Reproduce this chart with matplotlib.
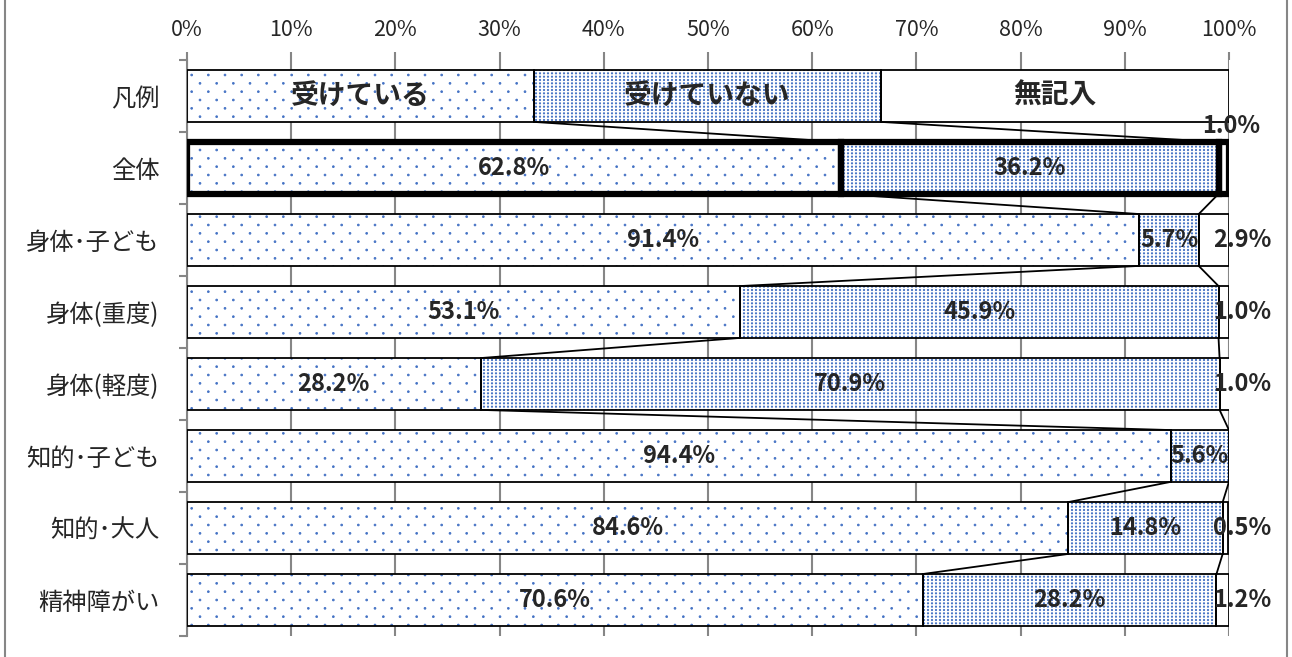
import numpy as np
import matplotlib.pyplot as plt
import matplotlib.hatch as mhatch
from matplotlib.lines import Line2D
from matplotlib.path import Path

plt.rcParams['font.family'] = ['Noto Sans CJK JP', 'DejaVu Sans']
plt.rcParams['hatch.linewidth'] = 0.6

# data
categories = ['凡例', '全体', '身体･子ども', '身体(重度)', '身体(軽度)', '知的･子ども', '知的･大人', '精神障がい']
received = [33.3, 62.8, 91.4, 53.1, 28.2, 94.4, 84.6, 70.6]
not_received = [33.3, 36.2, 5.7, 45.9, 70.9, 5.6, 14.8, 28.2]
no_answer = [33.4, 1.0, 2.9, 1.0, 1.0, 0.0, 0.5, 1.2]
series_names = ['受けている', '受けていない', '無記入']
xticks = [0, 10, 20, 30, 40, 50, 60, 70, 80, 90, 100]


# Excel-like dotted fills, drawn as hatch patterns on a 1 inch tile.
# 'O' -> light dots (staggered rows), 'o' -> dense dots (plain grid).
class DotFill(mhatch.HatchPatternBase):
    char = 'O'
    radius = 0.009

    def __init__(self, hatch, density):
        self.on = hatch.count(self.char) > 0
        circ = Path.unit_circle()
        self.cv = circ.vertices
        self.cc = circ.codes
        self.pts = self.points()
        self.num_vertices = len(self.pts) * len(self.cv) if self.on else 0

    def points(self):
        pts = []
        for k in range(13):
            if k % 2 == 0:
                xs = [j / 6 for j in range(7)]
            else:
                xs = [(j + 0.5) / 6 for j in range(6)]
            pts += [(xx, k / 12) for xx in xs]
        return pts

    def set_vertices_and_codes(self, vertices, codes):
        n = len(self.cv)
        for i, (xx, yy) in enumerate(self.pts):
            vertices[i * n:(i + 1) * n] = self.cv * self.radius + [xx, yy]
            codes[i * n:(i + 1) * n] = self.cc


class DenseDotFill(DotFill):
    char = 'o'
    radius = 0.0065

    def points(self):
        return [(j / 25, k / 30) for k in range(31) for j in range(26)]


swap = {mhatch.LargeCircles: DotFill, mhatch.SmallCircles: DenseDotFill}
mhatch._hatch_types = [swap.get(t, t) for t in mhatch._hatch_types]

hatches = ['O', 'o', '']
blue = '#4472C4'
txt = '#262626'
bar_h = 0.72

fig = plt.figure(figsize=(12.92, 6.57), dpi=100)
ax = fig.add_axes([0.1447, 0.032, 0.9512 - 0.1447, 0.9087 - 0.032])

y = list(range(len(categories)))
series = [received, not_received, no_answer]
left = [0.0] * len(categories)
for s, vals in enumerate(series):
    # hatch layer (blue dots) then black outline on top
    ax.barh(y, vals, left=left, height=bar_h, color='white', edgecolor=blue,
            hatch=hatches[s], linewidth=0, zorder=2)
    lw = [4.5 if c == '全体' else 1.3 for c in categories]
    ax.barh(y, vals, left=left, height=bar_h, fill=False, edgecolor='black',
            linewidth=lw, zorder=3)
    left = [l + v for l, v in zip(left, vals)]

# series lines between bars
cum1 = received
cum2 = [a + b for a, b in zip(received, not_received)]
for cum in (cum1, cum2):
    for i in range(len(categories) - 1):
        ax.plot([cum[i], cum[i + 1]], [i + bar_h / 2, i + 1 - bar_h / 2],
                color='black', linewidth=1.3, zorder=3)

# labels
lab = dict(ha='center', va='center', fontsize=17, fontweight='bold', color=txt, zorder=4)
for i, c in enumerate(categories):
    if c == '凡例':
        x0 = 0
        for s, name in enumerate(series_names):
            v = series[s][i]
            ax.text(x0 + v / 2, i, name, **{**lab, 'fontsize': 20})
            x0 += v
        continue
    ax.text(received[i] / 2, i, f'{received[i]:.1f}%', **lab)
    ax.text(received[i] + not_received[i] / 2, i, f'{not_received[i]:.1f}%', **lab)
    if no_answer[i] > 0:
        if c == '全体':
            ax.text(100.2, i - 0.58, f'{no_answer[i]:.1f}%', **lab)
        else:
            ax.text(101.3, i, f'{no_answer[i]:.1f}%', **lab)

ax.set_xlim(0, 100)
ax.set_ylim(len(categories) - 0.5, -0.5)
ax.set_xticks(xticks)
ax.set_xticklabels([f'{t}%' for t in xticks])
ax.xaxis.tick_top()
ax.tick_params(axis='x', length=6, color='#868686', width=1.5, labelsize=15.5,
               labelcolor=txt, pad=8)
ax.set_yticks(y)
ax.set_yticklabels(categories)
ax.set_yticks([i - 0.5 for i in range(len(categories) + 1)], minor=True)
ax.tick_params(axis='y', which='major', length=0, labelsize=17.5, labelcolor=txt, pad=20)
ax.tick_params(axis='y', which='minor', length=6, color='#868686', width=1.5)
ax.grid(axis='x', color='#868686', linewidth=1.5, zorder=0)
ax.set_axisbelow(True)
for side in ('top', 'right', 'bottom'):
    ax.spines[side].set_visible(False)
ax.spines['left'].set_color('#868686')
ax.spines['left'].set_linewidth(1.5)

# outer chart frame
fig.add_artist(Line2D([0.004, 0.004], [0, 1], color='#868686', linewidth=1.5))
fig.add_artist(Line2D([0.996, 0.996], [0, 1], color='#868686', linewidth=1.5))

fig.savefig('out.png', dpi=100)
